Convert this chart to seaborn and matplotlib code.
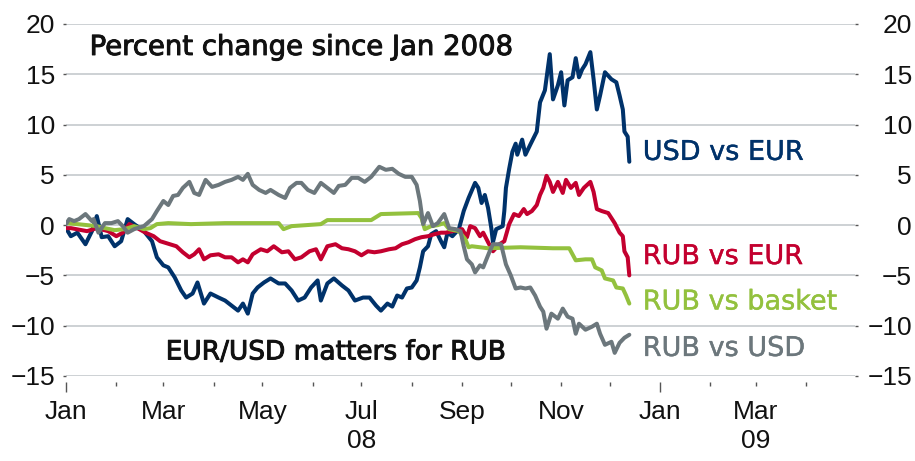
import numpy as np
import pandas as pd
import matplotlib
matplotlib.use("Agg")
import matplotlib.pyplot as plt
import matplotlib.patheffects as pe
import seaborn as sb

# days counted from 1 Jan 2008, values = % change since Jan 2008
usd_eur_day = [0, 3, 7, 12, 16, 19, 22, 26, 30, 34, 38, 42, 48, 53, 56, 60, 63, 67, 71, 74,
               78, 81, 85, 89, 94, 98, 102, 106, 109, 112, 115, 118, 122, 126, 131, 135, 139,
               143, 147, 151, 155, 157, 161, 165, 170, 174, 178, 183, 187, 191, 194, 198, 201,
               204, 207, 210, 213, 216, 218, 220, 223, 225, 228, 231, 233, 235, 238, 242, 245,
               248, 252, 254, 256, 258, 260, 262, 263, 265, 269, 270, 271, 273, 275, 277, 278,
               281, 283, 286, 290, 292, 295, 298, 300, 303, 305, 307, 309, 312, 314, 316, 318,
               320, 323, 325, 327, 329, 332, 336, 339, 341, 343, 344, 346, 347]
usd_eur = [-0.3, -1.1, -0.75, -1.9, -0.6, 0.9, -1.2, -1.1, -2.1, -1.6, 0.6, 0.1, -0.6, -1.6,
           -3.2, -4.0, -4.2, -5.2, -6.5, -7.2, -6.8, -5.7, -7.8, -6.8, -7.2, -7.5, -8.0, -8.5,
           -7.8, -8.8, -6.8, -6.2, -5.7, -5.3, -5.8, -5.8, -6.5, -7.5, -7.2, -6.2, -5.5, -7.5,
           -5.8, -5.3, -6.0, -6.5, -7.5, -7.2, -7.2, -8.0, -8.5, -7.8, -8.1, -7.0, -7.2, -6.3,
           -6.2, -5.5, -4.2, -2.6, -2.1, -0.9, -0.6, -1.6, -2.2, -0.75, -1.1, -0.4, 1.4, 2.7,
           4.2, 3.7, 2.2, 3.0, 1.7, -0.3, -1.7, -0.4, -0.1, 1.4, 3.7, 5.6, 7.3, 8.1, 7.0, 8.5,
           7.0, 8.0, 9.3, 12.2, 13.4, 17.0, 12.5, 13.9, 15.2, 11.9, 14.4, 14.7, 16.6, 14.7,
           15.5, 16.0, 17.2, 14.5, 11.5, 12.9, 15.2, 14.5, 14.2, 12.9, 11.5, 9.3, 8.8, 6.3]

rub_eur_day = [0, 3, 13, 19, 26, 31, 35, 39, 44, 49, 54, 58, 64, 68, 72, 76, 79, 82, 85, 89,
               94, 98, 102, 106, 109, 112, 115, 118, 120, 124, 128, 133, 137, 141, 145, 150,
               154, 157, 161, 166, 170, 174, 178, 182, 186, 190, 194, 199, 203, 207, 211, 215,
               219, 223, 227, 231, 234, 238, 244, 247, 249, 252, 255, 257, 260, 263, 267, 270,
               273, 276, 279, 282, 284, 287, 290, 292, 294, 296, 298, 300, 303, 306, 308, 311,
               314, 316, 319, 323, 325, 327, 330, 334, 338, 341, 343, 344, 346, 347]
rub_eur = [-0.3, -0.3, -0.6, -0.3, -0.6, -1.1, -0.75, 0.1, -0.3, -0.75, -1.1, -1.6, -1.9,
           -2.1, -2.7, -3.2, -2.9, -2.4, -3.4, -3.0, -2.9, -3.2, -3.2, -3.7, -3.4, -3.7, -2.9,
           -2.6, -2.4, -2.6, -2.1, -2.7, -2.6, -3.4, -3.2, -2.6, -2.4, -3.4, -2.1, -1.9, -2.3,
           -2.4, -2.6, -3.0, -2.6, -2.7, -2.6, -2.4, -2.3, -1.9, -1.7, -1.4, -1.2, -1.1, -0.9,
           -0.75, -0.75, -0.6, -0.4, -1.2, -0.1, -0.3, -1.1, -0.75, -1.7, -2.6, -1.9, -1.6,
           0.1, 1.1, 0.9, 1.6, 1.1, 1.4, 2.0, 3.0, 3.7, 4.9, 4.3, 3.3, 4.3, 3.2, 4.5, 3.7, 4.2,
           3.0, 3.7, 4.3, 3.3, 1.6, 1.4, 1.2, 0.2, -0.75, -1.1, -2.6, -3.2, -5.0]

basket_day = [0, 7, 19, 24, 30, 36, 42, 48, 52, 56, 63, 77, 98, 131, 134, 139, 157, 161, 188,
              194, 217, 219, 221, 225, 229, 233, 236, 242, 246, 248, 250, 260, 280, 300, 310,
              312, 314, 320, 324, 326, 330, 332, 337, 339, 343, 345, 347]
basket = [0.2, 0.1, -0.1, -0.3, -0.5, -0.4, -0.1, -0.4, -0.3, 0.1, 0.2, 0.1, 0.2, 0.2, -0.4,
          -0.1, 0.1, 0.5, 0.5, 1.1, 1.2, 0.7, -0.4, -0.1, 0.0, 0.2, -0.4, -0.6, -1.4, -2.2,
          -2.1, -2.3, -2.2, -2.3, -2.3, -2.9, -3.5, -3.4, -3.4, -4.2, -4.5, -5.3, -5.5, -6.2,
          -6.3, -7.0, -7.8]

rub_usd_day = [0, 2, 5, 8, 12, 16, 17, 20, 24, 28, 32, 35, 38, 42, 48, 53, 56, 60, 63, 66, 69,
               72, 76, 79, 82, 86, 90, 94, 98, 102, 106, 109, 112, 115, 119, 123, 126, 131, 135,
               138, 142, 145, 149, 153, 157, 161, 165, 168, 172, 176, 180, 184, 188, 193, 197,
               201, 205, 209, 213, 216, 218, 220, 223, 226, 229, 233, 236, 240, 243, 245, 247,
               250, 252, 255, 257, 259, 261, 263, 268, 271, 274, 277, 280, 283, 286, 289, 292,
               294, 296, 299, 303, 306, 309, 312, 314, 316, 320, 324, 327, 329, 332, 336, 338,
               341, 344, 347]
rub_usd = [0.1, 0.6, 0.4, 0.6, 1.1, 0.4, 0.6, -0.75, 0.2, 0.2, 0.4, -0.1, -0.75, -0.4, -0.1,
           0.6, 1.4, 2.4, 2.0, 2.9, 3.0, 3.7, 4.3, 3.2, 3.0, 4.5, 3.8, 4.0, 4.3, 4.5, 4.8, 4.5,
           5.1, 4.0, 3.5, 3.2, 3.5, 3.0, 2.7, 3.7, 4.2, 4.2, 3.5, 3.2, 4.2, 3.7, 3.2, 3.9, 4.0,
           4.7, 4.7, 4.3, 4.8, 5.8, 5.5, 5.6, 5.1, 4.8, 4.8, 4.0, 2.4, 0.1, 1.2, -0.1, 0.2, 1.1,
           -0.3, -0.4, -0.6, -2.1, -3.4, -3.9, -4.7, -4.0, -4.2, -3.4, -2.6, -1.9, -1.9, -3.9,
           -5.0, -6.3, -6.2, -6.3, -6.2, -7.0, -8.1, -8.6, -10.3, -8.8, -9.3, -8.3, -9.1, -9.3,
           -10.8, -9.8, -10.4, -10.1, -9.8, -10.8, -11.9, -11.6, -12.7, -11.7, -11.2, -10.9]

series_names = ["USD vs EUR", "RUB vs EUR", "RUB vs basket", "RUB vs USD"]
colours = ["#00326A", "#C3002F", "#93C13E", "#6C777C"]
label_y = [0.614, 0.318, 0.189, 0.057]

start = pd.Timestamp("2008-01-01")
frames = []
for name, days, vals in zip(series_names,
                            [usd_eur_day, rub_eur_day, basket_day, rub_usd_day],
                            [usd_eur, rub_eur, basket, rub_usd]):
    frames.append(pd.DataFrame({"date": start + pd.to_timedelta(days, unit="D"),
                                "value": vals, "series": name}))
df = pd.concat(frames, ignore_index=True)

sb.set_style("white")
plt.rcParams["font.family"] = ["Liberation Sans", "DejaVu Sans"]

fig = plt.figure(figsize=(9.15, 4.61), dpi=100)
ax = fig.add_axes([0.0721, 0.1844, 0.8623, 0.7636])

sb.lineplot(data=df, x="date", y="value", hue="series", hue_order=series_names,
            palette=colours, linewidth=2.9, estimator=None, sort=True, legend=False, ax=ax)

ax.set_ylim(-15, 20)
ax.set_yticks(range(-15, 21, 5))
ax.set_xlim(start, pd.Timestamp("2009-05-01"))
ax.grid(axis="y", color="#C9CED1", linewidth=1.3)
ax.grid(axis="x", visible=False)
ax.set_axisbelow(True)
for s in ax.spines.values():
    s.set_visible(False)
ax.spines["bottom"].set_position(("outward", 4.5))
ax.set_xlabel("")
ax.set_ylabel("")

months = pd.date_range("2008-01-01", "2009-04-01", freq="MS")
labels = []
for m in months:
    if m.month % 2 == 0:
        labels.append("")
    elif m == pd.Timestamp("2008-07-01"):
        labels.append("Jul\n08")
    elif m == pd.Timestamp("2009-03-01"):
        labels.append("Mar\n09")
    else:
        labels.append(m.strftime("%b"))
ax.set_xticks(months)
ax.set_xticklabels(labels, linespacing=1.25)
ax.tick_params(axis="x", bottom=True, length=3, width=1, color="#555555", pad=10,
               labelsize=19, labelcolor="#111111")
for m, t in zip(months, ax.xaxis.get_major_ticks()):
    if m.month == 1:
        t.tick1line.set_markersize(7.5)

ax.tick_params(axis="y", left=True, length=2, width=1, color="#555555", pad=6,
               labelsize=19, labelcolor="#111111")

ax2 = ax.twinx()
ax2.set_ylim(-15, 20)
ax2.set_yticks(range(-15, 21, 5))
ax2.tick_params(axis="y", right=True, length=2, width=1, color="#555555", pad=39,
                labelsize=19, labelcolor="#111111")
for lab in ax2.get_yticklabels():
    lab.set_ha("right")
for s in ax2.spines.values():
    s.set_visible(False)
ax2.grid(False)

medium = [pe.withStroke(linewidth=0.7, foreground="#111111")]
ax.text(0.030, 0.912, "Percent change since Jan 2008", transform=ax.transAxes,
        fontsize=19.8, family="DejaVu Sans", color="#111111", va="baseline",
        path_effects=medium)
ax.text(0.5577, 0.047, "EUR/USD matters for RUB", transform=ax.transAxes,
        fontsize=19, family="DejaVu Sans", color="#111111", va="baseline", ha="right",
        path_effects=medium)
for name, col, yy in zip(series_names, colours, label_y):
    ax.text(0.731, yy, name, transform=ax.transAxes, fontsize=19.5,
            family="DejaVu Sans", color=col, va="baseline",
            path_effects=[pe.withStroke(linewidth=0.3, foreground=col)])

fig.savefig("out.png", dpi=100)
